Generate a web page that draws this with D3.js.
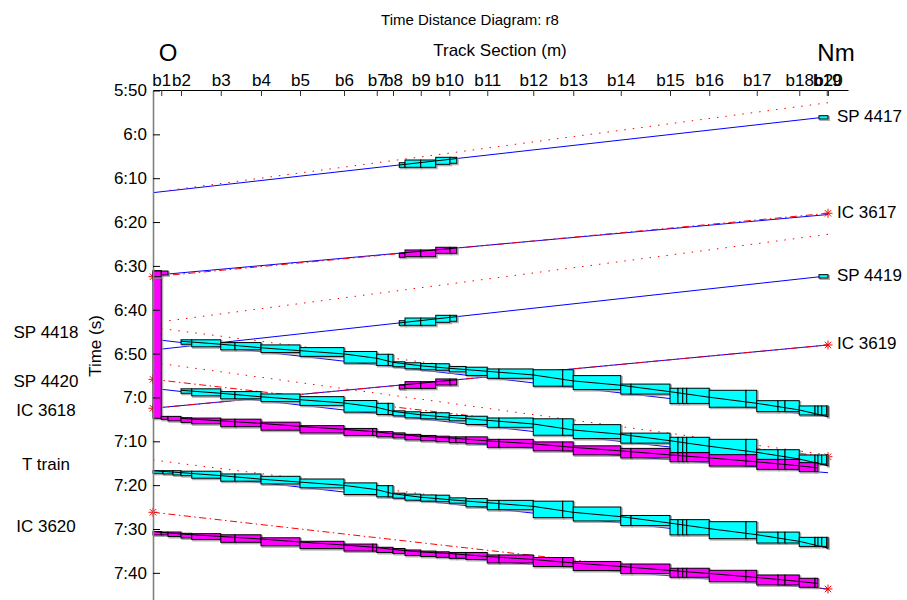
<!DOCTYPE html>
<html>
<head>
<meta charset="utf-8">
<script src="https://cdn.jsdelivr.net/npm/d3@7"></script>
<style>
body{margin:0;background:#fff;}
text{font-family:"Liberation Sans",Arial,sans-serif;fill:#000;}
</style>
</head>
<body>
<svg id="chart" width="907" height="600"></svg>
<script>
// ---------------- track layout (m) ----------------
var blockNames = ["b1","b2","b3","b4","b5","b6","b7","b8","b9","b10","b11","b12","b13","b14","b15","b16","b17","b18","b19","b20"];
var blockPos   = [330,1120,2710,4320,5880,7640,8950,9600,10710,11850,13370,15210,16810,18710,20680,22250,24150,25850,26950,27000];

// ---------------- trains ----------------
var trainNames = ["SP 4417","IC 3617","SP 4419","IC 3619","SP 4418","SP 4420","IC 3618","T train","IC 3620"];
var trainKind  = ["sp","ic","sp","ic","sp","sp","ic","sp","ic"];
var trainDir   = ["NmO","NmO","NmO","NmO","ONm","ONm","ONm","ONm","ONm"];

// realised path [m, s]
var actualPaths = [
  [[26680,21372],[0,22398]],
  [[27000,22697],[600,23511]],
  [[26680,23548],[0,24551]],
  [[27000,24482],[0,25348]],
  [[0,24404],[27000,25463]],
  [[0,25075],[27000,26124]],
  [[0,25472],[27000,26230]],
  [[0,26202],[27000,27233]],
  [[0,27051],[27000,27821]]
];
// scheduled path [m, s]
var planPaths = [
  [[27000,21167],[0,22396]],
  [[27000,22680],[0,23548]],
  [[27000,22968],[0,24179]],
  [[27000,24482],[0,25348]],
  [[0,24243],[27000,25426]],
  [[0,24722],[27000,25987]],
  [[0,24952],[27000,26011]],
  [[0,26056],[27000,27219]],
  [[0,26771],[27000,27821]]
];

// blocking times of the Nm -> O trains [from m, to m, start s, end s]
var blocksNmO = [
  [[26640,27000,21345,21390],[9850,10080,21988,22051],[10080,10710,21951,22051],[10710,11310,21951,22051],[11310,11880,21914,22010],[11880,12150,21914,21996]],
  [[0,330,23470,23548],[330,600,23470,23524],[9850,10080,23228,23282],[10080,10710,23182,23274],[10710,11310,23182,23274],[11310,11880,23145,23228],[11880,12150,23145,23228]],
  [[26640,27000,23520,23566],[9850,10080,24150,24213],[10080,10710,24113,24213],[10710,11310,24113,24213],[11310,11880,24076,24172],[11880,12150,24076,24158]],
  [[9850,10080,25030,25084],[10080,10710,24984,25076],[10710,11310,24984,25076],[11310,11880,24947,25030],[11880,12150,24947,25030]]
];

// O -> Nm trains: departure reference (s) and first blocked position (m)
var departRef  = [24404,25075,25452,26202,27034];
var blockFrom  = [1120,1120,330,0,0];

// blocking time stairways, relative to departure [from m, to m, start s, end s]
var spBlocks = [
  [0,400,0,36],[400,800,0,45],[800,1120,0,59],
  [1120,1550,7,68],[1550,2710,7,103],
  [2710,3280,45,144],[3280,4320,45,144],
  [4320,5880,77,182],[5880,7640,114,234],[7640,8950,167,326],
  [8950,9410,205,358],[9410,9600,205,358],
  [9600,10080,308,376],[10080,10710,321,404],[10710,11320,332,417],[11320,11850,335,424],
  [11850,12520,372,445],[12520,13370,382,495],
  [13370,13840,406,534],[13840,15210,406,534],
  [15210,16390,417,642],[16390,16810,417,642],
  [16810,18710,497,688],
  [18710,19120,613,750],[19120,20680,613,750],
  [20680,21000,670,878],[21000,21190,670,878],[21190,21350,670,878],[21350,22250,670,878],
  [22250,23720,698,930],[23720,24150,698,930],
  [24150,25000,840,990],[25000,25280,840,990],[25280,25850,840,990],
  [25850,26480,912,1036],[26480,26600,912,1036],[26600,26750,912,1036],[26750,26950,912,1036],
  [26950,27000,912,1059]
];
var icBlocks = [
  [0,330,0,48],[330,600,7,48],[600,1120,7,68],
  [1120,1550,25,89],[1550,2710,30,109],
  [2710,3280,45,148],[3280,4320,45,148],
  [4320,5880,86,196],[5880,7640,134,234],
  [7640,8790,172,268],[8790,8950,172,268],
  [8950,9600,216,287],[9600,10080,233,301],[10080,10710,253,328],[10710,11320,268,342],[11320,11850,278,353],
  [11850,12120,287,367],[12120,12520,287,367],[12520,13370,287,383],
  [13370,13840,321,431],[13840,15210,321,431],
  [15210,16390,356,479],[16390,16810,356,479],
  [16810,18710,410,534],
  [18710,19120,445,575],[19120,20680,445,575],
  [20680,21000,503,627],[21000,21190,503,627],[21190,21350,503,627],[21350,22250,503,627],
  [22250,23720,531,687],[23720,24150,531,687],
  [24150,25000,595,732],[25000,25280,595,732],[25280,25850,595,732],
  [25850,26480,640,763],[26480,26600,640,763]
];
// running line inside the stairway, relative to departure [m, s]
var spRun = [[0,0],[1120,27],[2710,68],[4320,116],[5880,156],[7640,201],[8950,260],[9600,315],[10710,363],[11850,397],[13370,438],[15210,488],[16810,570],[18710,629],[20680,717],[22250,793],[24150,876],[25850,967],[27000,1059]];
var icRun = [[0,0],[1120,34],[2710,68],[4320,103],[5880,144],[7640,185],[8950,219],[9600,246],[10710,280],[11850,301],[13370,342],[15210,383],[16810,431],[18710,479],[20680,534],[22250,575],[24150,629],[25850,684],[26600,711]];

// turnaround occupation at O (IC 3617 -> IC 3618)
var turnaround = [0,330,23466,25485];

// ---------------- drawing ----------------
var svg = d3.select("#chart");
var x = d3.scaleLinear().domain([0,27800]).range([153,848]);
var y = d3.scaleLinear().domain([21000,28000]).range([90.5,90.5+7000/13.683]);
var fill = {sp:"#00ffff", ic:"#ff00ff"};
var line = d3.line().x(function(d){return x(d[0]);}).y(function(d){return y(d[1]);});

function fmtTime(t){
  return Math.floor(t/3600)+":"+Math.round((t%3600)/60);
}

function asterisk(g,px,py){
  var r=4.5,a=3.2;
  g.append("path")
    .attr("d","M"+(px-r)+","+py+"h"+(2*r)+"M"+px+","+(py-r)+"v"+(2*r)+
              "M"+(px-a)+","+(py-a)+"l"+(2*a)+","+(2*a)+"M"+(px-a)+","+(py+a)+"l"+(2*a)+","+(-2*a))
    .attr("stroke","#ff0000").attr("stroke-width",1).attr("fill","none");
}

function drawBox(g,b,t0,color){
  var x0=x(b[0]), x1=x(b[1]), y0=y(t0+b[2]), y1=y(t0+b[3]);
  g.append("rect").attr("x",x0+1.2).attr("y",y0+1.2).attr("width",x1-x0).attr("height",y1-y0)
    .attr("fill","none").attr("stroke","#9a9a9a").attr("stroke-width",1.6).attr("opacity",0.8);
  g.append("rect").attr("x",x0).attr("y",y0).attr("width",x1-x0).attr("height",y1-y0)
    .attr("fill",color).attr("stroke","#000").attr("stroke-width",1);
}

// titles
svg.append("text").attr("x",470).attr("y",25).attr("text-anchor","middle").style("font-size","15px").text("Time Distance Diagram: r8");
svg.append("text").attr("x",168).attr("y",61).attr("text-anchor","middle").style("font-size","24px").text("O");
svg.append("text").attr("x",500).attr("y",56).attr("text-anchor","middle").style("font-size","17px").text("Track Section (m)");
svg.append("text").attr("x",836).attr("y",61).attr("text-anchor","middle").style("font-size","24px").text("Nm");
svg.append("text").attr("transform","translate(101,346) rotate(-90)").attr("text-anchor","middle").style("font-size","17px").text("Time (s)");

var gLines = svg.append("g");
var gMarks = svg.append("g");
var gBoxes = svg.append("g");
var gRun   = svg.append("g");

// realised paths (blue)
actualPaths.forEach(function(p){
  gLines.append("path").attr("d",line(p)).attr("fill","none").attr("stroke","#0000ff").attr("stroke-width",1);
});
// scheduled paths (red)
planPaths.forEach(function(p,i){
  var ic = trainKind[i]=="ic";
  gLines.append("path").attr("d",line(p)).attr("fill","none").attr("stroke","#ff0000").attr("stroke-width",1)
    .attr("stroke-dasharray", ic ? "7,3.5,1.5,3.5" : "1.5,7");
  if (ic){
    asterisk(gMarks,x(p[0][0]),y(p[0][1]));
    asterisk(gMarks,x(p[1][0]),y(p[1][1]));
  }
});

// turnaround bar
drawBox(gBoxes,turnaround,0,fill.ic);

// Nm -> O blocking
blocksNmO.forEach(function(rows,i){
  var c = fill[trainKind[i]];
  rows.forEach(function(b){ drawBox(gBoxes,b,0,c); });
  // running line across the blocked group b8..b10
  var p = actualPaths[i];
  var slope = (p[1][1]-p[0][1])/(p[1][0]-p[0][0]);
  var at = function(m){ return p[0][1]+slope*(m-p[0][0]); };
  gRun.append("path").attr("d",line([[9850,at(9850)],[12150,at(12150)]]))
    .attr("stroke","#000").attr("stroke-width",1).attr("fill","none");
});

// O -> Nm blocking stairways
var k=0;
trainNames.forEach(function(name,i){
  if (trainDir[i]!="ONm") return;
  var t0 = departRef[k], from = blockFrom[k]; k++;
  var rows = trainKind[i]=="ic" ? icBlocks : spBlocks;
  var run  = trainKind[i]=="ic" ? icRun : spRun;
  rows.filter(function(b){return b[0]>=from;}).forEach(function(b){ drawBox(gBoxes,b,t0,fill[trainKind[i]]); });
  var pts = run.filter(function(r){return r[0]>=from;}).map(function(r){return [r[0],t0+r[1]];});
  gRun.append("path").attr("d",line(pts)).attr("stroke","#000").attr("stroke-width",1).attr("fill","none");
});

// axes
var xAxis = d3.axisTop(x).tickValues(blockPos).tickFormat(function(d,i){return blockNames[i];})
  .tickSizeInner(-6).tickSizeOuter(0).tickPadding(4);
var gx = svg.append("g").attr("transform","translate(0,90)").call(xAxis);
gx.select(".domain").attr("stroke","#000").attr("stroke-width",1.2);
gx.selectAll(".tick line").attr("stroke","#333");
gx.selectAll("text").style("font-size","17px").attr("font-family",null);

var yAxis = d3.axisLeft(y).tickValues(d3.range(21000,27601,600)).tickFormat(fmtTime)
  .tickSizeInner(-7).tickSizeOuter(0).tickPadding(6);
var gy = svg.append("g").attr("transform","translate(153,0)").call(yAxis);
gy.select(".domain").attr("stroke","#808080").attr("stroke-width",1.6);
gy.selectAll(".tick line").attr("stroke","#000");
gy.selectAll("text").style("font-size","17px").attr("font-family",null);

// train labels
trainNames.forEach(function(name,i){
  var p = actualPaths[i];
  if (trainDir[i]=="NmO"){
    svg.append("text").attr("x",x(27000)+9).attr("y",y(p[0][1])-2).attr("dy","0.35em")
      .style("font-size","17px").text(name);
  } else {
    svg.append("text").attr("x",46).attr("y",y(p[0][1])-7).attr("dy","0.35em")
      .attr("text-anchor","middle").style("font-size","17px").text(name);
  }
});
</script>
</body>
</html>
